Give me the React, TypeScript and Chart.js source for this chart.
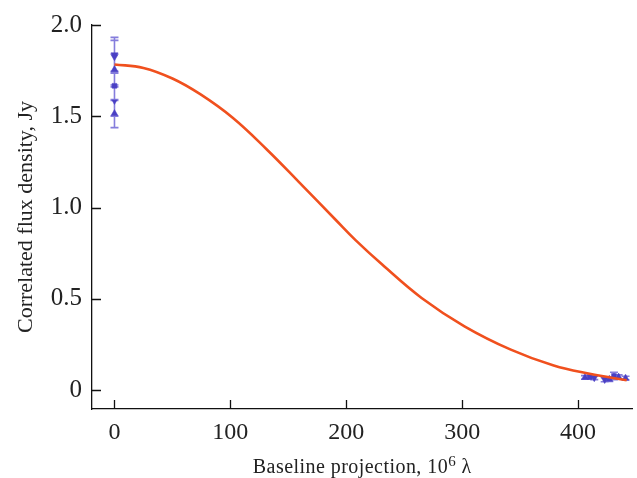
import React, { useEffect, useRef } from 'react';
import { Chart, registerables } from 'chart.js';

Chart.register(...registerables);

// Fitted visibility curve
const curveBaseline = [0, 25, 50, 74, 102, 131, 159, 191, 208, 231, 265, 302, 342, 379, 410, 442];
const curveFlux = [1.784, 1.765, 1.707, 1.621, 1.492, 1.321, 1.141, 0.932, 0.822, 0.688, 0.505, 0.35, 0.222, 0.135, 0.09, 0.054];

// Measurements at short baselines
const shortBaseline = [0, 0, 0, 0, 0, 0];
const shortFlux = [1.837, 1.826, 1.756, 1.667, 1.581, 1.515];
const shortErr = [0.095, 0.09, 0.085, 0.08, 0.08, 0.077];
const shortMarker = ['down', 'down', 'up', 'square', 'smalldown', 'up'];

// Measurements at long baselines
const longBaseline = [406, 410, 414, 423, 427, 431, 435, 441];
const longFlux = [0.07, 0.072, 0.068, 0.058, 0.06, 0.078, 0.072, 0.066];
const longErr = [0.01, 0.01, 0.01, 0.012, 0.012, 0.02, 0.012, 0.01];
const longMarker = ['up', 'square', 'down', 'down', 'up', 'square', 'up', 'up'];

const xTickValues = [0, 100, 200, 300, 400];
const xTickLabels = ['0', '100', '200', '300', '400'];
const yTickValues = [0, 0.5, 1, 1.5, 2];
const yTickLabels = ['0', '0.5', '1.0', '1.5', '2.0'];

const xTitleMain = 'Baseline projection, 10';
const xTitleSup = '6';
const xTitleTail = ' \u03bb';
const yTitle = 'Correlated flux density, Jy';

const X_MIN = -19.4;
const X_MAX = 447;
const Y_MIN = -0.103;
const Y_MAX = 2.0;

const SERIF = "'Liberation Serif', 'Times New Roman', serif";
const TEXT_COLOR = '#222';
const MARKER_COLOR = '#4a40c4';
const ERR_COLOR = 'rgba(112, 102, 214, 0.85)';
const LINE_COLOR = '#f0501e';

const allBaseline = [...shortBaseline, ...longBaseline];
const allFlux = [...shortFlux, ...longFlux];
const allErr = [...shortErr, ...longErr];
const allMarker = [...shortMarker, ...longMarker];

const styleOf = (m: string) => (m === 'square' ? 'rect' : 'triangle');
const rotOf = (m: string) => (m === 'down' || m === 'smalldown' ? 180 : 0);
const radOf = (m: string) => (m === 'smalldown' ? 3 : m === 'square' ? 3.4 : 4);

const errorBars = {
  id: 'errorBars',
  beforeDatasetsDraw(chart: any) {
    const { ctx, scales } = chart;
    ctx.save();
    ctx.strokeStyle = ERR_COLOR;
    ctx.lineWidth = 1.6;
    ctx.beginPath();
    allBaseline.forEach((u, i) => {
      const px = scales.x.getPixelForValue(u);
      const top = scales.y.getPixelForValue(allFlux[i] + allErr[i]);
      const bot = scales.y.getPixelForValue(allFlux[i] - allErr[i]);
      ctx.moveTo(px, top);
      ctx.lineTo(px, bot);
      ctx.moveTo(px - 4, top);
      ctx.lineTo(px + 4, top);
      ctx.moveTo(px - 4, bot);
      ctx.lineTo(px + 4, bot);
    });
    ctx.stroke();
    ctx.restore();
  },
};

const axisTicksAndTitles = {
  id: 'axisTicksAndTitles',
  afterDraw(chart: any) {
    const { ctx, chartArea, scales } = chart;
    ctx.save();
    ctx.strokeStyle = '#111';
    ctx.lineWidth = 1.3;
    ctx.beginPath();
    xTickValues.forEach((v) => {
      const px = Math.round(scales.x.getPixelForValue(v)) + 0.5;
      ctx.moveTo(px, chartArea.bottom);
      ctx.lineTo(px, chartArea.bottom - 9);
    });
    yTickValues.forEach((v) => {
      const py = Math.round(scales.y.getPixelForValue(v)) + 0.5;
      ctx.moveTo(chartArea.left, py);
      ctx.lineTo(chartArea.left + 9, py);
    });
    ctx.stroke();

    // x-axis title with a real superscript
    ctx.fillStyle = TEXT_COLOR;
    ctx.textBaseline = 'alphabetic';
    ctx.textAlign = 'left';
    const mainFont = `20px ${SERIF}`;
    const supFont = `15px ${SERIF}`;
    (ctx as any).letterSpacing = '0.45px';
    ctx.font = mainFont;
    const w1 = ctx.measureText(xTitleMain).width;
    const w3 = ctx.measureText(xTitleTail).width;
    ctx.font = supFont;
    const w2 = ctx.measureText(xTitleSup).width;
    const total = w1 + w2 + w3;
    const cx = (chartArea.left + chartArea.right) / 2;
    const baseY = 473;
    let x0 = cx - total / 2;
    ctx.font = mainFont;
    ctx.fillText(xTitleMain, x0, baseY);
    x0 += w1;
    ctx.font = supFont;
    ctx.fillText(xTitleSup, x0, baseY - 7.5);
    x0 += w2;
    ctx.font = mainFont;
    ctx.fillText(xTitleTail, x0, baseY);

    // y-axis title
    (ctx as any).letterSpacing = '0px';
    ctx.font = `22px ${SERIF}`;
    ctx.textAlign = 'center';
    ctx.translate(32, (chartArea.top + chartArea.bottom) / 2);
    ctx.rotate(-Math.PI / 2);
    ctx.fillText(yTitle, 0, 0);
    ctx.restore();
  },
};

export default function App() {
  const ref = useRef<HTMLCanvasElement>(null);

  useEffect(() => {
    document.body.style.margin = '0';
    const canvas = ref.current;
    if (!canvas) return;
    const chart = new Chart(canvas, {
      type: 'scatter',
      data: {
        datasets: [
          {
            label: 'fit',
            data: curveBaseline.map((u, i) => ({ x: u, y: curveFlux[i] })),
            showLine: true,
            borderColor: LINE_COLOR,
            borderWidth: 2.6,
            pointRadius: 0,
            tension: 0.4,
            fill: false,
          } as any,
          {
            label: 'data',
            data: allBaseline.map((u, i) => ({ x: u, y: allFlux[i] })),
            pointStyle: allMarker.map(styleOf) as any,
            rotation: allMarker.map(rotOf),
            radius: allMarker.map(radOf),
            backgroundColor: MARKER_COLOR,
            borderColor: MARKER_COLOR,
            borderWidth: 0.5,
          } as any,
        ],
      },
      options: {
        animation: false,
        responsive: true,
        maintainAspectRatio: false,
        layout: { padding: { top: 19, right: 0, left: 0, bottom: 0 } },
        plugins: {
          legend: { display: false },
          tooltip: { enabled: false },
        },
        scales: {
          x: {
            type: 'linear',
            min: X_MIN,
            max: X_MAX,
            afterBuildTicks: (scale: any) => {
              scale.ticks = xTickValues.map((v) => ({ value: v }));
            },
            afterFit: (scale: any) => {
              scale.height = 69;
            },
            grid: { drawOnChartArea: false, drawTicks: false },
            border: { display: true, color: '#111', width: 1.3 },
            ticks: {
              padding: 9,
              color: TEXT_COLOR,
              font: { family: SERIF, size: 24 },
              maxRotation: 0,
              autoSkip: false,
              callback: (v: any) => xTickLabels[xTickValues.indexOf(Number(v))] ?? '',
            },
            title: { display: false },
          },
          y: {
            type: 'linear',
            min: Y_MIN,
            max: Y_MAX,
            afterBuildTicks: (scale: any) => {
              scale.ticks = yTickValues.map((v) => ({ value: v }));
            },
            afterFit: (scale: any) => {
              scale.width = 92;
            },
            grid: { drawOnChartArea: false, drawTicks: false },
            border: { display: true, color: '#111', width: 1.3 },
            ticks: {
              padding: 10,
              color: TEXT_COLOR,
              font: { family: SERIF, size: 25 },
              autoSkip: false,
              callback: (v: any) => yTickLabels[yTickValues.indexOf(Number(v))] ?? '',
            },
            title: { display: false },
          },
        },
      } as any,
      plugins: [errorBars, axisTicksAndTitles],
    });
    return () => chart.destroy();
  }, []);

  return (
    <div style={{ position: 'relative', width: 637, height: 478 }}>
      <canvas ref={ref} />
    </div>
  );
}
